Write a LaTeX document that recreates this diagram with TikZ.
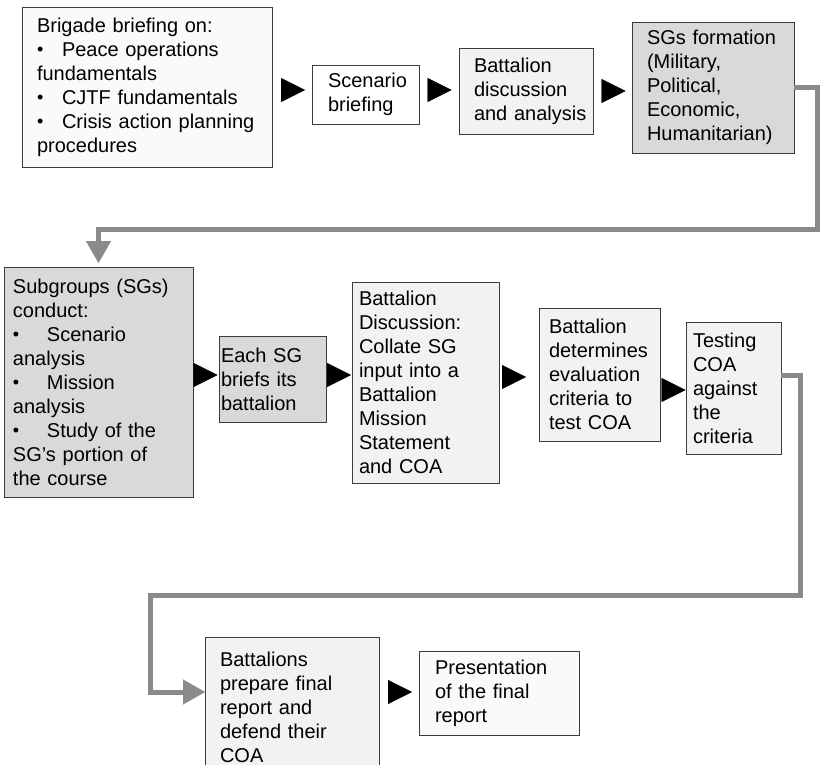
\documentclass[tikz,border=0pt]{standalone}
\usepackage{fontspec}
\setmainfont{Liberation Sans}
\usetikzlibrary{arrows.meta}
\definecolor{edge}{HTML}{3C3C3C}
\definecolor{paper}{HTML}{FAFAFA}
\definecolor{pale}{HTML}{F2F2F2}
\definecolor{shade}{HTML}{D9D9D9}
\definecolor{linkgray}{HTML}{8A8A8A}
% bullet followed by a tab-like gap of the given width
\newcommand\bulitem[1]{\makebox[#1][l]{\raisebox{0.7pt}{\fontsize{18}{18}\selectfont\textbullet}}}
\begin{document}
\begin{tikzpicture}[x=1pt,y=-1pt,
  stepbox/.style n args={4}{draw=edge, line width=0.8pt, rectangle, anchor=north west,
    inner sep=0pt, outer sep=0pt, align=left, font=\fontsize{20}{24}\selectfont,
    minimum width=#1, text width=#1, minimum height=#2, fill=#3,
    execute at begin node={\leftskip=#4\relax}},
  flow/.style={-{Triangle[length=24pt,width=24pt]}, line width=0.4pt, black},
  back/.style={draw=linkgray, line width=5pt,
    -{Triangle[length=22pt,width=25pt,line width=0.1pt]}}
]
\useasboundingbox (0,0) rectangle (820,765);
\clip (0,0) rectangle (820,765);
\fill[white] (0,0) rectangle (820,765);

% first row
\node[stepbox={250pt}{160pt}{paper}{15pt}] (b1) at (22,7)
  {Brigade briefing on:\\ \bulitem{25pt}Peace operations\\ fundamentals\\
   \bulitem{25pt}CJTF fundamentals\\ \bulitem{25pt}Crisis action planning\\ procedures};
\node[stepbox={107pt}{59pt}{white}{16pt}] (b2) at (312,65) {Scenario\\ briefing};
\node[stepbox={134pt}{86pt}{pale}{15pt}] (b3) at (459,48) {Battalion\\ discussion\\ and analysis};
\node[stepbox={162pt}{131pt}{shade}{15pt}] (b4) at (632,22)
  {SGs formation\\ (Military,\\ Political,\\ Economic,\\ Humanitarian)};

% second row
\node[stepbox={189pt}{230pt}{shade}{9pt}] (b5) at (4,267)
  {Subgroups (SGs)\\ conduct:\\ \bulitem{34pt}Scenario\\ analysis\\ \bulitem{34pt}Mission\\ analysis\\
   \bulitem{34pt}Study of the\\ SG’s portion of\\ the course};
\node[stepbox={107pt}{86pt}{shade}{2pt}] (b6) at (219,336) {Each SG\\ briefs its\\ battalion};
\node[stepbox={147pt}{201pt}{pale}{7pt}] (b7) at (352,282)
  {Battalion\\ Discussion:\\ Collate SG\\ input into a\\ Battalion\\ Mission\\ Statement\\ and COA};
\node[stepbox={121pt}{133pt}{pale}{10pt}] (b8) at (539,308)
  {Battalion\\ determines\\ evaluation\\ criteria to\\ test COA};
\node[stepbox={95pt}{132pt}{pale}{7pt}] (b9) at (686,322)
  {Testing\\ COA\\ against\\ the\\ criteria};

% third row
\node[stepbox={174pt}{140pt}{pale}{15pt}] (b10) at (205,637)
  {Battalions\\ prepare final\\ report and\\ defend their\\ COA};
\node[stepbox={160pt}{84pt}{paper}{16pt}] (b11) at (419,651)
  {Presentation\\ of the final\\ report};

% step arrows
\draw[flow, shorten <=9pt, shorten >=7pt] (b1.east |- 0,90) -- (b2.west |- 0,90);
\draw[flow, shorten <=8.5pt, shorten >=7.5pt] (b2.east |- 0,90) -- (b3.west |- 0,90);
\draw[flow, shorten <=8.5pt, shorten >=6.5pt] (b3.east |- 0,91) -- (b4.west |- 0,91);
\draw[flow, shorten <=0.5pt, shorten >=1.5pt] (b5.east |- 0,375) -- (b6.west |- 0,375);
\draw[flow, shorten <=1pt, shorten >=1pt] (b6.east |- 0,375) -- (b7.west |- 0,375);
\draw[flow, shorten <=3pt, shorten >=13pt] (b7.east |- 0,377) -- (b8.west |- 0,377);
\draw[flow, shorten <=1.5pt, shorten >=0.5pt] (b8.east |- 0,390) -- (b9.west |- 0,390);
\draw[flow, shorten <=9pt, shorten >=7pt] (b10.east |- 0,692) -- (b11.west |- 0,692);

% row-to-row returns
\coordinate (c1) at (817,230);
\draw[back, shorten >=4pt] (b4.east) -| (c1) -| (b5.north);
\coordinate (c2) at (800,595);
\coordinate (c3) at (150,692);
\draw[back] ([yshift=13pt]b9.east) -| (c2) -| (c3) -- (b10.west |- c3);
\end{tikzpicture}
\end{document}
